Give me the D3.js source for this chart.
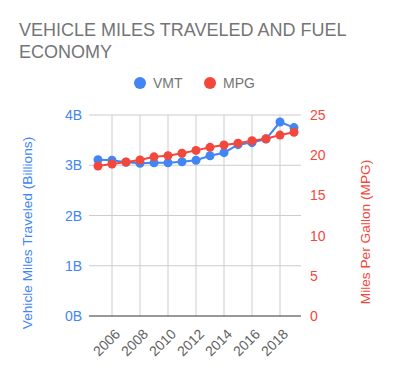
<!DOCTYPE html>
<html>
<head>
  <meta charset="utf-8">
  <script src="https://d3js.org/d3.v7.min.js"></script>
  <style>
    body { margin: 0; background: #fff; }
    text { font-family: Arial, "Liberation Sans", sans-serif; }
  </style>
</head>
<body>
<div id="chart"></div>
<script>
  const years = [2005, 2006, 2007, 2008, 2009, 2010, 2011, 2012, 2013, 2014, 2015, 2016, 2017, 2018, 2019];
  const vmt = [3.11, 3.10, 3.06, 3.04, 3.05, 3.05, 3.07, 3.10, 3.19, 3.25, 3.41, 3.45, 3.52, 3.86, 3.75];
  const mpg = [18.66, 18.9, 19.15, 19.4, 19.8, 19.94, 20.24, 20.6, 20.98, 21.27, 21.5, 21.8, 22.05, 22.5, 22.85];
  const vmtTicks = [0, 1, 2, 3, 4];
  const mpgTicks = [0, 5, 10, 15, 20, 25];
  const yearTicks = [2006, 2008, 2010, 2012, 2014, 2016, 2018];

  const blue = "#4285f4";
  const red = "#f4473c";

  const width = 393, height = 375;
  const plotL = 91, plotR = 301, plotT = 115, plotB = 316;

  const svg = d3.select("#chart").append("svg")
    .attr("width", width)
    .attr("height", height);

  const x = d3.scaleBand().domain(years).range([plotL, plotR]);
  const xc = d => x(d) + x.bandwidth() / 2;
  const yL = d3.scaleLinear().domain([0, 4]).range([plotB, plotT]);
  const yR = d3.scaleLinear().domain([0, 25]).range([plotB, plotT]);

  // title
  svg.append("text")
    .attr("x", 19).attr("y", 36)
    .attr("font-size", 18).attr("fill", "#757575")
    .selectAll("tspan")
    .data(["VEHICLE MILES TRAVELED AND FUEL", "ECONOMY"])
    .join("tspan")
    .attr("x", 19)
    .attr("dy", (d, i) => i ? 22 : 0)
    .text(d => d);

  // legend
  const legend = [["VMT", blue, 140], ["MPG", red, 210]];
  legend.forEach(([name, col, lx]) => {
    svg.append("circle").attr("cx", lx).attr("cy", 83).attr("r", 6).attr("fill", col);
    svg.append("text").attr("x", lx + 13).attr("y", 88)
      .attr("font-size", 14).attr("fill", "#757575").text(name);
  });

  // grid
  svg.append("g").selectAll("line")
    .data(vmtTicks.filter(d => d > 0))
    .join("line")
    .attr("x1", plotL - 2).attr("x2", plotR)
    .attr("y1", d => yL(d)).attr("y2", d => yL(d))
    .attr("stroke", "#cccccc");

  svg.append("g").selectAll("line")
    .data(yearTicks)
    .join("line")
    .attr("x1", d => xc(d)).attr("x2", d => xc(d))
    .attr("y1", plotT).attr("y2", plotB)
    .attr("stroke", "#cccccc");

  svg.append("line")
    .attr("x1", plotL - 2).attr("x2", plotR)
    .attr("y1", plotB).attr("y2", plotB)
    .attr("stroke", "#333");

  // left axis labels
  svg.append("g").selectAll("text")
    .data(vmtTicks)
    .join("text")
    .attr("x", 82).attr("y", d => yL(d) + 5)
    .attr("text-anchor", "end")
    .attr("font-size", 14).attr("fill", blue)
    .text(d => d + "B");

  // right axis labels
  svg.append("g").selectAll("text")
    .data(mpgTicks)
    .join("text")
    .attr("x", 310).attr("y", d => yR(d) + 5)
    .attr("font-size", 14).attr("fill", red)
    .text(d => d);

  // axis titles
  svg.append("text")
    .attr("transform", "translate(32,233) rotate(-90)")
    .attr("text-anchor", "middle")
    .attr("font-size", 13.7).attr("fill", blue)
    .text("Vehicle Miles Traveled (Billions)");

  svg.append("text")
    .attr("transform", "translate(370,232) rotate(-90)")
    .attr("text-anchor", "middle")
    .attr("font-size", 13.7).attr("fill", red)
    .text("Miles Per Gallon (MPG)");

  // x labels
  svg.append("g").selectAll("text")
    .data(yearTicks)
    .join("text")
    .attr("transform", d => `translate(${xc(d) + 9},${plotB + 19}) rotate(-45)`)
    .attr("text-anchor", "end")
    .attr("font-size", 14).attr("fill", "#616161")
    .text(d => d);

  // series
  const series = [[vmt, yL, blue], [mpg, yR, red]];
  series.forEach(([vals, sc, col]) => {
    const line = d3.line().x((d, i) => xc(years[i])).y(d => sc(d));
    svg.append("path").datum(vals)
      .attr("d", line)
      .attr("fill", "none").attr("stroke", col).attr("stroke-width", 2);
    svg.append("g").selectAll("circle")
      .data(vals)
      .join("circle")
      .attr("cx", (d, i) => xc(years[i]))
      .attr("cy", d => sc(d))
      .attr("r", 4.5)
      .attr("fill", col);
  });
</script>
</body>
</html>
